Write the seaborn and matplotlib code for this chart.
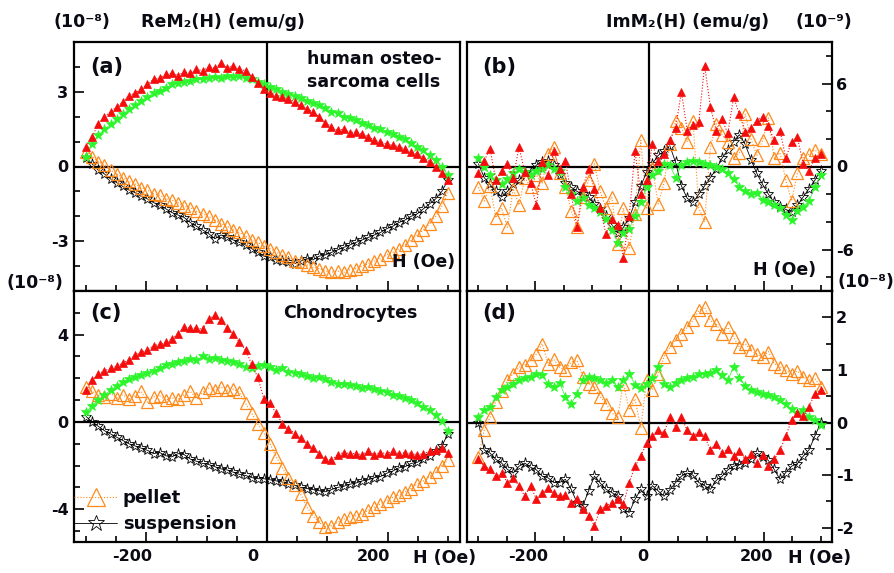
import numpy as np
import matplotlib
matplotlib.use("Agg")
import matplotlib.pyplot as plt
import matplotlib.transforms as mtransforms
from matplotlib.ticker import MultipleLocator
import seaborn as sns

# field sweep (Oe), one branch per series, 60 readings from -300 to 300
H = np.linspace(-300, 300, 60)

# (a) ReM2, human osteosarcoma cells, units 1e-8 emu/g
red_a = [0.8, 1.2, 1.7, 2.0, 2.2, 2.4, 2.6, 2.85, 2.95, 3.1,
         3.3, 3.5, 3.55, 3.7, 3.75, 3.65, 3.8, 3.75, 3.9, 3.85,
         4.0, 3.95, 4.15, 3.95, 4.05, 3.9, 3.85, 3.6, 3.35, 3.1,
         2.95, 2.85, 2.8, 2.7, 2.6, 2.45, 2.3, 2.2, 2.0, 1.75,
         1.6, 1.45, 1.5, 1.35, 1.4, 1.3, 1.2, 1.05, 1.0, 0.9,
         0.85, 0.8, 0.7, 0.6, 0.5, 0.35, 0.2, 0.0, -0.25, -0.55]
green_a = [0.4, 0.9, 1.25, 1.5, 1.7, 1.9, 2.1, 2.3, 2.45, 2.65,
           2.8, 2.95, 3.05, 3.15, 3.3, 3.35, 3.4, 3.45, 3.5, 3.5,
           3.55, 3.6, 3.55, 3.65, 3.6, 3.65, 3.55, 3.5, 3.4, 3.3,
           3.2, 3.1, 3.0, 2.9, 2.85, 2.75, 2.65, 2.55, 2.45, 2.35,
           2.2, 2.15, 2.0, 1.95, 1.85, 1.75, 1.65, 1.55, 1.5, 1.4,
           1.3, 1.2, 1.1, 0.95, 0.8, 0.65, 0.45, 0.25, 0.0, -0.35]
orange_a = [0.6, 0.4, 0.2, 0.05, -0.15, -0.3, -0.45, -0.6, -0.7, -0.85,
            -0.95, -1.1, -1.15, -1.3, -1.35, -1.45, -1.6, -1.65, -1.8, -1.9,
            -2.0, -2.15, -2.3, -2.4, -2.55, -2.65, -2.8, -2.95, -3.05, -3.2,
            -3.3, -3.45, -3.55, -3.65, -3.8, -3.85, -3.95, -4.05, -4.1, -4.2,
            -4.25, -4.2, -4.25, -4.15, -4.1, -4.0, -3.9, -3.8, -3.7, -3.55,
            -3.45, -3.3, -3.15, -2.95, -2.75, -2.55, -2.3, -2.0, -1.6, -1.05]
black_a = [0.35, 0.1, -0.15, -0.3, -0.5, -0.65, -0.8, -0.95, -1.05, -1.2,
           -1.3, -1.45, -1.55, -1.7, -1.85, -1.95, -2.05, -2.25, -2.4, -2.55,
           -2.7, -2.9, -2.75, -2.85, -2.95, -3.05, -3.15, -3.3, -3.45, -3.6,
           -3.65, -3.75, -3.8, -3.85, -3.9, -3.8, -3.7, -3.75, -3.6, -3.55,
           -3.45, -3.35, -3.25, -3.15, -3.05, -2.95, -2.85, -2.75, -2.65, -2.5,
           -2.4, -2.25, -2.15, -2.0, -1.9, -1.7, -1.5, -1.3, -1.0, -0.55]

# (b) ImM2, human osteosarcoma cells, units 1e-9 emu/g
red_b = [-0.5, 0.4, 1.3, -1.0, -0.3, 0.2, -0.8, 1.4, -0.4, -1.2,
         -2.8, 0.3, -0.6, 1.1, -0.2, 0.4, -2.0, -4.4, -1.5, -0.2,
         -1.6, -3.0, -4.9, -3.8, -4.2, -6.6, -3.6, 1.1, -2.0, -1.0,
         1.6, 0.4, 0.9, 1.9, 2.8, 5.4, 2.6, 3.0, 3.2, 7.3,
         4.3, 2.6, 3.4, 2.4, 5.0, 3.8, 2.5, 2.8, 3.3, 3.6,
         2.9, 1.9, 2.6, 0.6, 1.8, 2.1, 0.2, -0.3, 0.6, 0.9]
green_b = [0.6, 0.0, -0.6, -1.0, -1.3, -0.9, -0.5, -0.2, -0.4, -0.6,
           -0.3, -0.2, 0.1, -0.2, -0.3, -1.5, -2.0, -2.5, -2.3, -2.8,
           -3.0, -3.3, -3.8, -4.6, -5.5, -4.8, -4.5, -3.6, -2.6, -1.5,
           -0.6, -0.3, 0.2, 0.1, -0.8, 0.1, 0.3, 0.4, 0.3, 0.2,
           0.1, 0.0, -0.2, -0.5, -0.9, -1.5, -1.8, -2.0, -1.9, -2.4,
           -2.6, -2.8, -3.0, -3.5, -3.9, -3.2, -2.9, -2.5, -1.5, -0.6]
orange_b = [-1.5, -2.5, -1.4, -3.7, -3.0, -4.4, -1.6, -2.8, -0.8, -1.5,
            -0.6, -1.2, 0.9, 1.4, -0.5, -1.5, -3.2, -4.4, -2.2, -1.0,
            0.2, -1.8, -3.0, -2.2, -5.6, -3.0, -5.9, -3.4, 1.9, -3.0,
            -0.1, -2.7, -1.2, 1.6, 3.3, 2.8, 1.8, 3.3, -3.0, -4.0,
            1.4, 3.1, 2.3, 1.8, 0.6, 1.0, 3.8, 2.0, 0.8, 1.9,
            3.5, 0.6, 1.0, -1.0, -2.5, -0.5, 0.6, 0.9, 1.2, 0.9]
black_b = [0.2, -0.8, -1.3, -1.8, -2.2, -1.8, -1.3, -1.0, -0.5, -0.4,
           0.1, 0.3, 0.4, 0.1, -0.6, -1.2, -1.5, -1.8, -2.0, -2.2,
           -2.7, -3.1, -3.6, -4.2, -4.8, -4.4, -3.7, -2.6, -1.4, -0.4,
           0.2, 0.8, 1.1, 1.5, 0.3, -1.4, -2.3, -2.6, -2.0, -1.4,
           -0.8, -0.2, 0.6, 1.2, 1.8, 2.3, 1.6, 0.5, -0.5, -1.3,
           -2.0, -2.6, -2.9, -3.1, -3.3, -2.8, -2.2, -1.6, -1.0, -0.3]

# (c) ReM2, chondrocytes, units 1e-8 emu/g
red_c = [1.45, 1.9, 2.2, 2.35, 2.45, 2.55, 2.7, 2.85, 3.05, 3.2,
         3.3, 3.5, 3.55, 3.65, 3.8, 4.05, 4.35, 4.3, 4.3, 4.25,
         4.7, 4.9, 4.65, 4.3, 4.05, 3.65, 3.3, 2.65, 2.05, 1.05,
         0.85, 0.4, -0.08, -0.3, -0.53, -0.75, -1.0, -1.2, -1.45, -1.7,
         -1.75, -1.5, -1.4, -1.45, -1.45, -1.5, -1.35, -1.5, -1.4, -1.45,
         -1.35, -1.45, -1.4, -1.45, -1.5, -1.45, -1.35, -1.3, -1.2, -1.4]
green_c = [0.45, 0.75, 1.0, 1.25, 1.45, 1.65, 1.85, 1.95, 2.05, 2.15,
           2.25, 2.35, 2.45, 2.6, 2.65, 2.75, 2.8, 2.9, 2.85, 3.0,
           2.9, 2.95, 2.85, 2.8, 2.75, 2.65, 2.5, 2.45, 2.55, 2.6,
           2.5, 2.4, 2.45, 2.3, 2.25, 2.2, 2.1, 2.0, 2.05, 1.95,
           1.85, 1.75, 1.75, 1.7, 1.65, 1.55, 1.6, 1.5, 1.4, 1.35,
           1.25, 1.2, 1.1, 1.0, 0.85, 0.7, 0.55, 0.3, 0.05, -0.4]
orange_c = [1.6, 1.4, 1.25, 1.15, 1.3, 1.1, 1.25, 1.05, 1.2, 1.4,
            0.9, 1.15, 1.2, 1.0, 1.1, 1.05, 1.25, 1.4, 1.1, 1.35,
            1.55, 1.45, 1.6, 1.45, 1.5, 1.35, 0.85, 0.4, -0.1, -0.5,
            -1.0, -1.6, -2.1, -2.55, -2.9, -3.3, -3.9, -4.3, -4.6, -4.8,
            -4.75, -4.6, -4.45, -4.35, -4.3, -4.2, -4.05, -3.9, -3.75, -3.6,
            -3.45, -3.35, -3.2, -3.05, -2.85, -2.7, -2.5, -2.3, -2.0, -1.75]
black_c = [0.25, 0.0, -0.2, -0.4, -0.55, -0.7, -0.85, -1.0, -1.1, -1.2,
           -1.3, -1.45, -1.4, -1.55, -1.6, -1.45, -1.5, -1.7, -1.8, -1.9,
           -1.95, -2.05, -2.15, -2.2, -2.3, -2.4, -2.45, -2.55, -2.6, -2.6,
           -2.65, -2.7, -2.75, -2.85, -2.9, -3.0, -3.05, -3.1, -3.15, -3.2,
           -3.1, -3.0, -2.95, -2.85, -2.8, -2.7, -2.65, -2.55, -2.5, -2.35,
           -2.25, -2.1, -2.05, -1.9, -1.85, -1.7, -1.55, -1.35, -1.1, -0.55]

# (d) ImM2, chondrocytes, units 1e-8 emu/g
red_d = [-0.7, -0.83, -0.89, -1.02, -0.96, -1.14, -1.05, -1.21, -1.4, -1.2,
         -1.46, -1.33, -1.25, -1.33, -1.4, -1.38, -1.52, -1.45, -1.65, -1.77,
         -1.96, -1.65, -1.58, -1.52, -1.46, -1.55, -1.14, -0.83, -0.64, -0.39,
         -0.26, -0.14, -0.2, 0.11, -0.08, 0.1, -0.15, -0.26, -0.18, -0.26,
         -0.52, -0.4, -0.58, -0.5, -0.64, -0.55, -0.7, -0.6, -0.77, -0.62,
         -0.83, -0.7, -0.52, -0.26, 0.05, 0.18, 0.12, 0.3, 0.55, 0.62]
green_d = [0.11, 0.24, 0.3, 0.49, 0.62, 0.68, 0.74, 0.8, 0.85, 0.87,
           0.93, 0.9, 0.74, 0.68, 0.75, 0.49, 0.36, 0.55, 0.8, 0.87,
           0.85, 0.8, 0.75, 0.8, 0.68, 0.8, 0.93, 0.72, 0.66, 0.74,
           0.85, 1.06, 0.74, 0.68, 0.75, 0.8, 0.85, 0.87, 0.92, 0.93,
           0.95, 1.0, 0.9, 0.8, 1.06, 0.85, 0.7, 0.62, 0.58, 0.55,
           0.52, 0.49, 0.42, 0.36, 0.25, 0.18, 0.24, 0.11, 0.05, -0.04]
orange_d = [-0.65, -0.15, 0.1, 0.4, 0.6, 0.8, 0.93, 1.05, 1.1, 1.18,
            1.3, 1.5, 1.12, 1.2, 1.05, 1.0, 1.15, 1.18, 0.87, 0.74,
            0.68, 0.49, 0.36, 0.18, 0.11, 0.74, 0.24, 0.45, -0.1, 0.8,
            0.62, 0.93, 1.25, 1.43, 1.56, 1.69, 1.81, 1.94, 2.13, 2.19,
            1.94, 1.87, 1.69, 1.81, 1.62, 1.43, 1.5, 1.37, 1.3, 1.25,
            1.35, 1.12, 1.06, 1.0, 0.93, 0.98, 0.87, 0.8, 0.84, 0.68]
black_d = [0.0, -0.52, -0.58, -0.7, -0.77, -0.89, -0.96, -0.83, -0.77, -0.85,
           -0.9, -1.02, -1.05, -1.14, -1.14, -1.08, -1.27, -1.52, -1.58, -1.3,
           -1.02, -1.15, -1.27, -1.33, -1.4, -1.65, -1.71, -1.46, -1.27, -1.4,
           -1.2, -1.3, -1.4, -1.28, -1.14, -1.02, -0.96, -1.0, -1.14, -1.2,
           -1.27, -1.1, -1.02, -0.9, -0.83, -0.8, -0.77, -0.7, -0.58, -0.65,
           -0.72, -0.89, -1.08, -0.95, -0.83, -0.78, -0.64, -0.52, -0.26, -0.01]

sns.set_style("white")
plt.rcParams['font.family'] = ['DejaVu Sans']
plt.rcParams['font.weight'] = 'bold'

RED = '#f50d0d'
GREEN = '#2cf52c'
ORANGE = '#ff8a1c'
INK = '#0a0a14'

fig = plt.figure(figsize=(8.95, 5.73), dpi=100)
W, Hp = 895, 573


def box(x0, y0, x1, y1):
    return [x0 / W, 1 - y1 / Hp, (x1 - x0) / W, (y1 - y0) / Hp]


ax_a = fig.add_axes(box(74, 42, 460, 291))
ax_b = fig.add_axes(box(467, 42, 832, 291))
ax_c = fig.add_axes(box(74, 291, 460, 542))
ax_d = fig.add_axes(box(467, 291, 832, 542))


def draw(ax, black, orange, green, red, legend=False):
    sns.lineplot(x=H, y=black, ax=ax, sort=False, estimator=None, color='k',
                 lw=0.6, marker='*', ms=8, mfc='none', mec='k', mew=0.6,
                 label='suspension' if legend else None, legend=False)
    sns.lineplot(x=H, y=orange, ax=ax, sort=False, estimator=None, color=ORANGE,
                 lw=0.8, ls=':', marker='^', ms=9, mfc='none', mec=ORANGE, mew=0.9,
                 label='pellet' if legend else None, legend=False)
    sns.lineplot(x=H, y=green, ax=ax, sort=False, estimator=None, color=GREEN,
                 lw=0.5, marker='*', ms=7.5, mec=GREEN, mew=0.5, legend=False)
    sns.lineplot(x=H, y=red, ax=ax, sort=False, estimator=None, color=RED,
                 lw=0.8, ls=':', marker='^', ms=6, mec=RED, mew=0.5, legend=False)


draw(ax_a, black_a, orange_a, green_a, red_a)
draw(ax_b, black_b, orange_b, green_b, red_b)
draw(ax_c, black_c, orange_c, green_c, red_c, legend=True)
draw(ax_d, black_d, orange_d, green_d, red_d)

limits = {ax_a: (-5, 5, 3, 1), ax_b: (-9, 9, 6, 2),
          ax_c: (-5.5, 6, 4, 1), ax_d: (-2.27, 2.5, 1, 0.5)}
for ax, (lo, hi, major, minor) in limits.items():
    ax.set_xlim(-320, 320)
    ax.set_ylim(lo, hi)
    ax.axhline(0, color='k', lw=1.6, zorder=1)
    ax.axvline(0, color='k', lw=1.6, zorder=1)
    ax.set_xticks([-200, 0, 200])
    ax.xaxis.set_minor_locator(MultipleLocator(50))
    ax.yaxis.set_major_locator(MultipleLocator(major))
    ax.yaxis.set_minor_locator(MultipleLocator(minor))
    for s in ax.spines.values():
        s.set_linewidth(1.6)
        s.set_color('k')
    ax.tick_params(which='both', direction='in', width=1.4, labelsize=11.5,
                   top=False, bottom=True, labelcolor=INK)
    ax.tick_params(which='major', length=7)
    ax.tick_params(which='minor', length=4)
    ax.set_xlabel('')
    ax.set_ylabel('')

for ax in (ax_a, ax_c):
    ax.tick_params(axis='y', which='both', left=True, right=False, pad=4)
for ax in (ax_b, ax_d):
    ax.tick_params(axis='y', which='both', left=False, right=True,
                   labelleft=False, labelright=True, pad=3)
for ax in (ax_a, ax_b):
    ax.tick_params(axis='x', labelbottom=False)
for ax in (ax_c, ax_d):
    ax.tick_params(axis='x', pad=5)

ax_a.set_yticks([-3, 0, 3])
ax_b.set_yticks([-6, 0, 6])
ax_c.set_yticks([-4, 0, 4])
ax_d.set_yticks([-2, -1, 0, 1, 2])
ax_a.set_yticklabels(['-3', '0', '3'])
ax_b.set_yticklabels(['-6', '0', '6'])
ax_c.set_yticklabels(['-4', '0', '4'])
ax_d.set_yticklabels(['-2', '-1', '0', '1', '2'])
ax_c.set_xticklabels(['-200', '0', '200'])
ax_d.set_xticklabels(['-200', '0', '200'])

# x tick labels sit a bit left of their ticks in the original
for ax, dx in ((ax_c, -14), (ax_d, -7)):
    off = mtransforms.ScaledTranslation(dx / 100, 0, fig.dpi_scale_trans)
    for lab in ax.get_xticklabels():
        lab.set_transform(lab.get_transform() + off)

# panel labels and notes
ax_a.text(0.041, 0.9, '(a)', transform=ax_a.transAxes, fontsize=15, va='center', color=INK)
ax_b.text(0.041, 0.9, '(b)', transform=ax_b.transAxes, fontsize=15, va='center', color=INK)
ax_c.text(0.041, 0.912, '(c)', transform=ax_c.transAxes, fontsize=15, va='center', color=INK)
ax_d.text(0.041, 0.912, '(d)', transform=ax_d.transAxes, fontsize=15, va='center', color=INK)
ax_a.text(0.604, 0.886, 'human osteo-\nsarcoma cells', transform=ax_a.transAxes,
          fontsize=12.5, va='center', ha='left', linespacing=1.4, color=INK)
ax_c.text(0.541, 0.912, 'Chondrocytes', transform=ax_c.transAxes,
          fontsize=12.5, va='center', ha='left', color=INK)
ax_a.text(0.987, 0.116, 'H (Oe)', transform=ax_a.transAxes, fontsize=12.5,
          va='center', ha='right', color=INK)
ax_b.text(0.871, 0.084, 'H (Oe)', transform=ax_b.transAxes, fontsize=12.5,
          va='center', ha='center', color=INK)

fig.text(82 / W, 1 - 22 / Hp, '(10⁻⁸)', ha='center', va='center', fontsize=12.5, color=INK)
fig.text(223 / W, 1 - 22 / Hp, 'ReM₂(H) (emu/g)', ha='center', va='center', fontsize=12.5, color=INK)
fig.text(688 / W, 1 - 22 / Hp, 'ImM₂(H) (emu/g)', ha='center', va='center', fontsize=12.5, color=INK)
fig.text(824 / W, 1 - 22 / Hp, '(10⁻⁹)', ha='center', va='center', fontsize=12.5, color=INK)
fig.text(35 / W, 1 - 283 / Hp, '(10⁻⁸)', ha='center', va='center', fontsize=12.5, color=INK)
fig.text(866 / W, 1 - 282 / Hp, '(10⁻⁸)', ha='center', va='center', fontsize=12.5, color=INK)
fig.text(413 / W, 1 - 558 / Hp, 'H (Oe)', ha='left', va='center', fontsize=12.5, color=INK)
fig.text(788 / W, 1 - 558 / Hp, 'H (Oe)', ha='left', va='center', fontsize=12.5, color=INK)

handles = [l for l in ax_c.get_lines() if l.get_label() in ('pellet', 'suspension')]
handles = sorted(handles, key=lambda l: l.get_label() != 'pellet')
leg = ax_c.legend(handles=handles, loc='lower left', bbox_to_anchor=(0.0, 0.035),
                  frameon=False, fontsize=13, handlelength=2.4, handletextpad=0.3,
                  borderaxespad=0, borderpad=0, labelspacing=0.45, markerscale=1.5)
for t in leg.get_texts():
    t.set_color(INK)

fig.savefig('out.png', dpi=100)
